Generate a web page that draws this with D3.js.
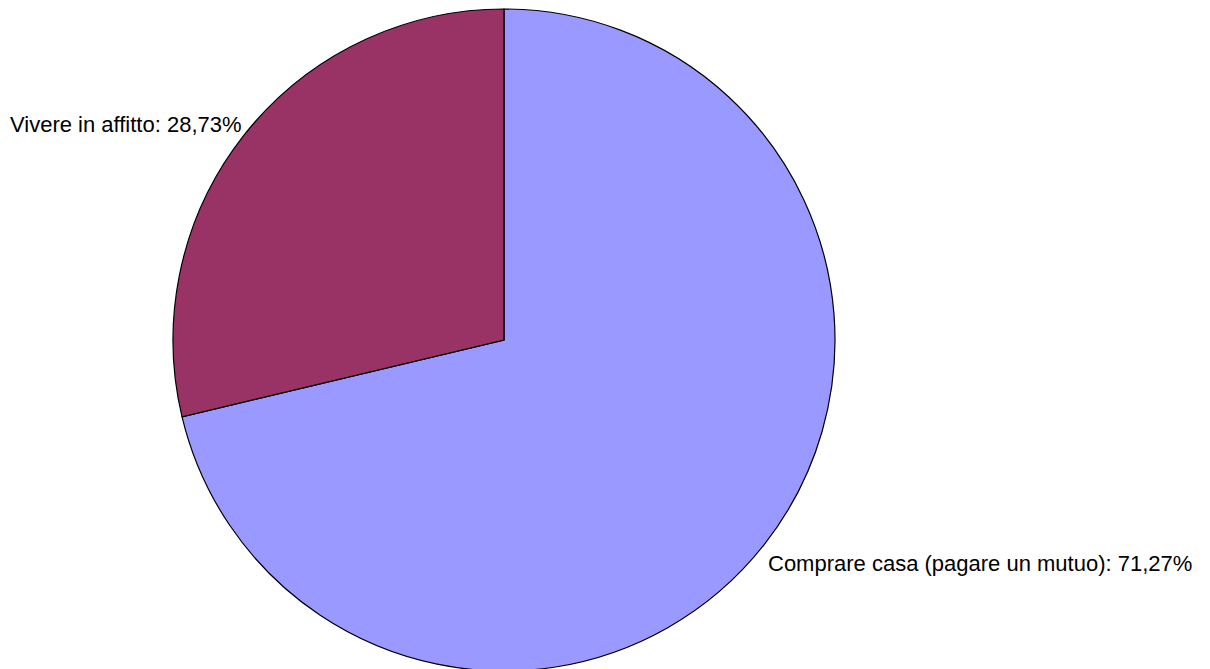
<!DOCTYPE html>
<html>
<head>
<meta charset="utf-8">
<script src="https://cdn.jsdelivr.net/npm/d3@7"></script>
<style>
html,body{margin:0;padding:0;background:#fff;}
svg{display:block;}
</style>
</head>
<body>
<svg id="chart" width="1210" height="669"></svg>
<script>
const categories = ["Comprare casa (pagare un mutuo)", "Vivere in affitto"];
const values = [71.27, 28.73];
const labels = ["Comprare casa (pagare un mutuo): 71,27%", "Vivere in affitto: 28,73%"];
const colors = ["#9999FF", "#993366"];

const svg = d3.select("#chart");
const cx = 504, cy = 340, r = 331;

const pie = d3.pie().sort(null).value(d => d)(values);
const arc = d3.arc().innerRadius(0).outerRadius(r);

const g = svg.append("g").attr("transform", `translate(${cx},${cy})`);
g.selectAll("path").data(pie).enter().append("path")
  .attr("d", arc)
  .attr("fill", (d, i) => colors[i])
  .attr("stroke", "#000")
  .attr("stroke-width", 1.2)
  .attr("stroke-linejoin", "miter");

const labelPos = [
  {x: 768, y: 571, anchor: "start"},
  {x: 10, y: 132, anchor: "start"}
];
svg.selectAll("text.lbl").data(labels).enter().append("text")
  .attr("class", "lbl")
  .attr("x", (d, i) => labelPos[i].x)
  .attr("y", (d, i) => labelPos[i].y)
  .attr("text-anchor", (d, i) => labelPos[i].anchor)
  .attr("font-family", "Liberation Sans, Arial, sans-serif")
  .attr("font-size", 22)
  .attr("fill", "#000")
  .text(d => d);
</script>
</body>
</html>
